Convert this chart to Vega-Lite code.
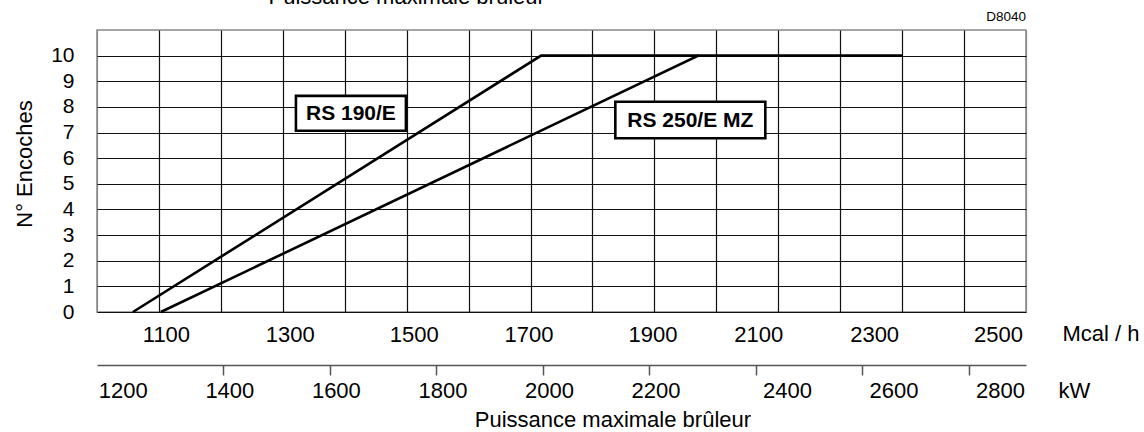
{
  "$schema": "https://vega.github.io/schema/vega-lite/v6.json",
  "width": 929,
  "height": 282,
  "autosize": "none",
  "padding": {"left": 97, "top": 30, "right": 118, "bottom": 120},
  "background": "white",
  "config": {
    "font": "Liberation Sans",
    "view": {"stroke": "#888", "strokeWidth": 1.5},
    "axis": {"labelColor": "black", "titleColor": "black", "titleFontWeight": "normal", "labelFont": "Liberation Sans", "titleFont": "Liberation Sans"}
  },
  "datasets": {
    "curves": [
      {"series": "RS 190/E", "mcal": 1058, "n": 0},
      {"series": "RS 190/E", "mcal": 1717, "n": 10},
      {"series": "RS 190/E", "mcal": 1971, "n": 10},
      {"series": "RS 250/E MZ", "mcal": 1103, "n": 0},
      {"series": "RS 250/E MZ", "mcal": 1971, "n": 10},
      {"series": "RS 250/E MZ", "mcal": 2300, "n": 10}
    ],
    "labels": [
      {"series": "RS 190/E", "mcal": 1410, "n": 7.75},
      {"series": "RS 250/E MZ", "mcal": 1958, "n": 7.49}
    ],
    "kw": [
      {"kw": 1200}, {"kw": 1400}, {"kw": 1600}, {"kw": 1800}, {"kw": 2000},
      {"kw": 2200}, {"kw": 2400}, {"kw": 2600}, {"kw": 2800}
    ]
  },
  "layer": [
    {
      "layer": [
        {
          "data": {"name": "curves"},
          "mark": {"type": "line", "color": "black", "strokeWidth": 2.6},
          "encoding": {
            "x": {
              "field": "mcal", "type": "quantitative",
              "scale": {"domain": [1000, 2500], "nice": false, "zero": false},
              "axis": {
                "values": [1000, 1100, 1200, 1300, 1400, 1500, 1600, 1700, 1800, 1900, 2000, 2100, 2200, 2300, 2400, 2500],
                "format": "d",
                "labelExpr": "datum.value % 200 == 100 ? datum.label : ''",
                "labelFlush": false, "labelOverlap": false, "labelBound": false,
                "grid": true,
                "gridColor": {"condition": {"test": "datum.value == 1000 || datum.value == 2500", "value": "#888"}, "value": "#111"},
                "gridWidth": 1.2,
                "ticks": false, "tickSize": 0, "domain": false,
                "labelFontSize": 22, "labelPadding": 12,
                "labelOffset": {"condition": [
                  {"test": "datum.value >= 2250", "value": -28},
                  {"test": "datum.value >= 2050", "value": -20},
                  {"test": "datum.value >= 1650", "value": -2}
                ], "value": 7},
                "title": "Mcal / h", "titleFontSize": 22, "titleX": 965, "titleY": 21,
                "titleAlign": "left", "titleBaseline": "middle"
              }
            },
            "y": {
              "field": "n", "type": "quantitative",
              "scale": {"domain": [0, 11], "nice": false, "zero": false},
              "axis": {
                "values": [0, 1, 2, 3, 4, 5, 6, 7, 8, 9, 10],
                "tickCount": 11,
                "labelOverlap": false, "labelFlush": false, "labelBound": false,
                "grid": true, "gridColor": "#111", "gridWidth": 1.2,
                "ticks": false, "tickSize": 0, "domain": false,
                "labelFontSize": 21, "labelPadding": 23,
                "title": "N° Encoches", "titleFontSize": 22, "titleAngle": 270,
                "titleX": -73, "titleY": 133.5, "titleAlign": "center", "titleBaseline": "middle"
              }
            },
            "detail": {"field": "series", "type": "nominal"}
          }
        },
        {
          "data": {"name": "labels"},
          "mark": {"type": "point", "filled": true, "fill": "white", "stroke": "black", "strokeWidth": 2.6, "opacity": 1, "fillOpacity": 1, "strokeOpacity": 1},
          "encoding": {
            "x": {"field": "mcal", "type": "quantitative"},
            "y": {"field": "n", "type": "quantitative"},
            "shape": {"field": "series", "type": "nominal", "legend": null,
              "scale": {"domain": ["RS 190/E", "RS 250/E MZ"], "range": ["M-1,-0.318H1V0.318H-1Z", "M-1,-0.244H1V0.244H-1Z"]}},
            "size": {"field": "series", "type": "ordinal", "legend": null,
              "scale": {"domain": ["RS 190/E", "RS 250/E MZ"], "range": [12100, 22500]}}
          }
        },
        {
          "data": {"name": "labels"},
          "mark": {"type": "text", "font": "Liberation Sans", "fontSize": 21, "fontWeight": "bold", "color": "black", "align": "center", "baseline": "middle", "dy": 1},
          "encoding": {
            "x": {"field": "mcal", "type": "quantitative"},
            "y": {"field": "n", "type": "quantitative"},
            "text": {"field": "series"}
          }
        },
        {
          "data": {"values": [{"text": "Puissance maximale brûleur"}]},
          "mark": {"type": "text", "font": "Liberation Sans", "fontSize": 22, "color": "black", "align": "center", "baseline": "alphabetic", "dy": -26},
          "encoding": {
            "x": {"datum": 1500, "type": "quantitative"},
            "y": {"datum": 11, "type": "quantitative"},
            "text": {"field": "text"}
          }
        },
        {
          "data": {"values": [{"text": "D8040"}]},
          "mark": {"type": "text", "font": "Liberation Sans", "fontSize": 13.5, "color": "black", "align": "right", "baseline": "alphabetic", "dy": -9.5},
          "encoding": {
            "x": {"datum": 2500, "type": "quantitative"},
            "y": {"datum": 11, "type": "quantitative"},
            "text": {"field": "text"}
          }
        },
        {
          "data": {"values": [{"text": "Puissance maximale brûleur"}]},
          "mark": {"type": "text", "font": "Liberation Sans", "fontSize": 22, "color": "black", "align": "center", "baseline": "alphabetic", "dy": 115},
          "encoding": {
            "x": {"datum": 1833, "type": "quantitative"},
            "y": {"datum": 0, "type": "quantitative"},
            "text": {"field": "text"}
          }
        }
      ]
    },
    {
      "data": {"name": "kw"},
      "mark": {"type": "rule", "opacity": 0},
      "encoding": {
        "x": {
          "field": "kw", "type": "quantitative",
          "scale": {"domain": [1162.79, 2906.98], "nice": false, "zero": false},
          "axis": {
            "orient": "bottom", "offset": 53,
            "values": [1200, 1400, 1600, 1800, 2000, 2200, 2400, 2600, 2800],
            "format": "d", "grid": false,
            "domain": true, "domainColor": "#555", "domainWidth": 1.5,
            "ticks": true, "tickSize": 10, "tickWidth": 1.5,
            "tickColor": {"condition": {"test": "datum.value == 1200", "value": "transparent"}, "value": "#555"},
            "labelFontSize": 22, "labelPadding": 5,
            "labelFlush": false, "labelOverlap": false, "labelBound": false,
            "labelOffset": {"condition": {"test": "datum.value >= 2300", "value": 31}, "value": 6},
            "title": "kW", "titleFontSize": 22, "titleX": 961, "titleY": 25,
            "titleAlign": "left", "titleBaseline": "middle"
          }
        }
      }
    }
  ],
  "resolve": {"scale": {"x": "independent"}}
}
